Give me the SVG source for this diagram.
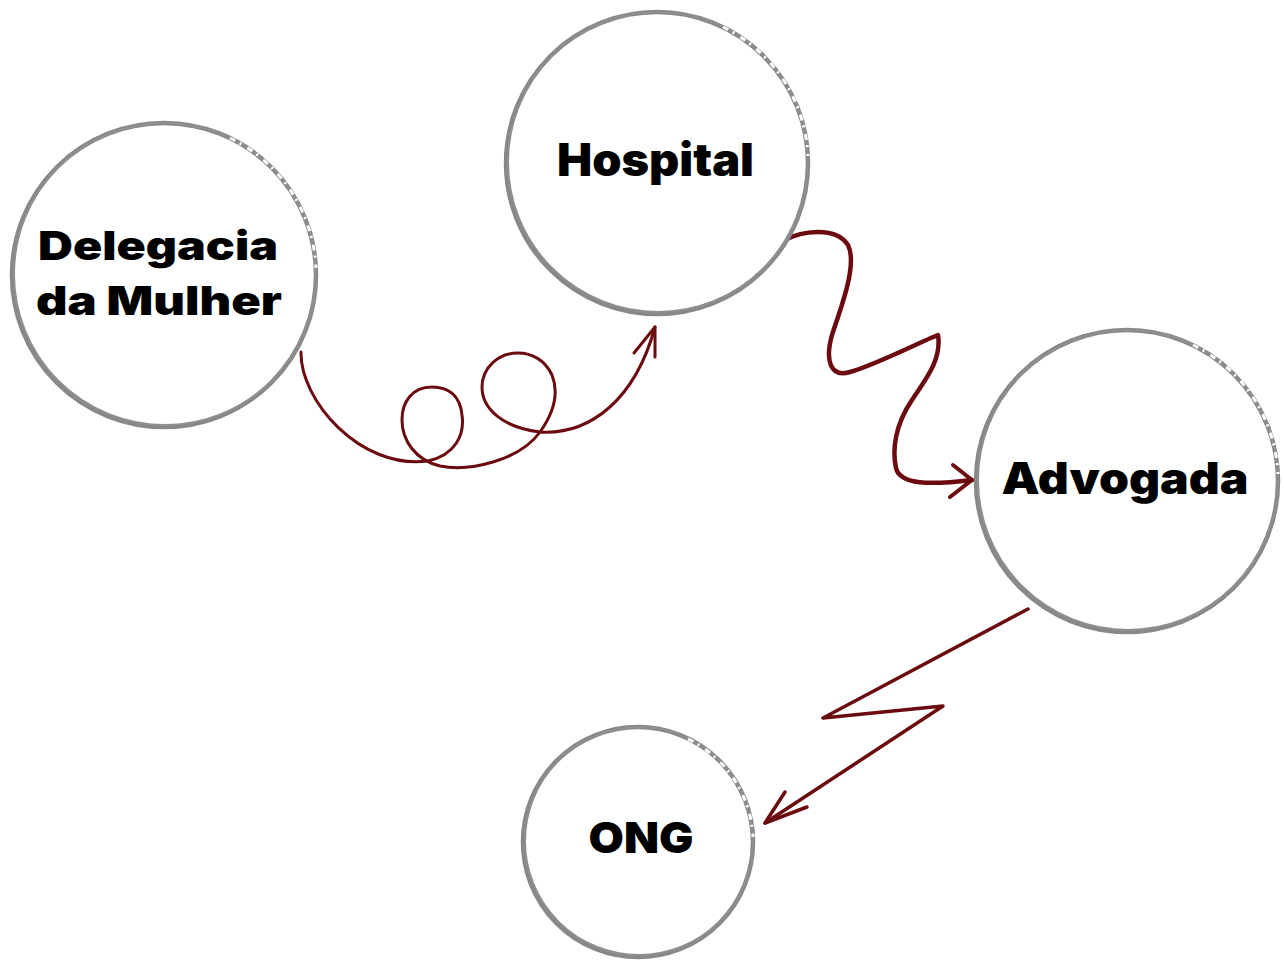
<svg xmlns="http://www.w3.org/2000/svg" width="1284" height="962" viewBox="0 0 1284 962">
<style>
.ring{fill:#fff;stroke:#888;stroke-width:4.5}
.ring2{fill:none;stroke:#8f8f8f;stroke-width:2}
.fade{fill:none;stroke:#fff;stroke-width:3;stroke-dasharray:6 5 2 7}
.lbl{font-family:Inter,"Liberation Sans",sans-serif;font-weight:900;fill:#000;text-anchor:middle}
.con{fill:none;stroke:#6b0a0f;stroke-linecap:round;stroke-linejoin:round}
</style>
<rect width="1284" height="962" fill="#fff"/>
<g id="connectors">
<path class="con" stroke-width="3" d="M301,352 C300,400 360,470 428,461 C455,455 465,435 462,415 C460,395 448,387 432,387 C412,387 402,402 402,420 C402,440 415,460 440,466 C470,472 520,460 540,432 C552,415 560,395 552,375 C545,360 532,353 518,353 C498,353 482,368 482,387 C482,410 505,428 540,432 C590,435 635,400 655,327"/>
<path class="con" stroke-width="3" d="M634,353 L655,327 L655,357"/>
<path class="con" stroke-width="4.5" d="M785,240 C800,232 835,225 848,245 C858,265 840,310 832,335 C825,360 830,378 850,372 C875,365 920,342 938,335 C942,360 925,380 912,400 C895,425 892,450 896,468 C900,485 930,485 972,480"/>
<path class="con" stroke-width="4" d="M953,465 L972,480 L950,497"/>
<path class="con" stroke-width="3.5" d="M1028,609 L823,718 L943,706 L765,823"/>
<path class="con" stroke-width="3.5" d="M785,792 L765,823 L807,807"/>
</g>
<g id="node-delegacia">
<circle class="ring" cx="164" cy="275" r="152"/>
<circle class="ring2" cx="165" cy="274" r="151"/>
<path class="fade" d="M230,138 A152,152 0 0 1 316,268"/>
<text class="lbl" x="158" y="260" font-size="40" textLength="240" lengthAdjust="spacingAndGlyphs">Delegacia</text>
<text class="lbl" x="159" y="315" font-size="40" textLength="246" lengthAdjust="spacingAndGlyphs">da Mulher</text>
</g>
<g id="node-hospital">
<circle class="ring" cx="657" cy="163" r="151"/>
<circle class="ring2" cx="658" cy="162" r="150"/>
<path class="fade" d="M723,27 A151,151 0 0 1 808,156"/>
<text class="lbl" x="655.5" y="176" font-size="45" textLength="197" lengthAdjust="spacingAndGlyphs">Hospital</text>
</g>
<g id="node-advogada">
<circle class="ring" cx="1127" cy="481" r="151"/>
<circle class="ring2" cx="1128" cy="480" r="150"/>
<path class="fade" d="M1193,345 A151,151 0 0 1 1278,474"/>
<text class="lbl" x="1125" y="494" font-size="44" textLength="247" lengthAdjust="spacingAndGlyphs">Advogada</text>
</g>
<g id="node-ong">
<circle class="ring" cx="638" cy="842" r="115"/>
<circle class="ring2" cx="639" cy="841" r="114"/>
<path class="fade" d="M688,739 A115,115 0 0 1 753,837"/>
<text class="lbl" x="641" y="853" font-size="43" textLength="105" lengthAdjust="spacingAndGlyphs">ONG</text>
</g>
</svg>
